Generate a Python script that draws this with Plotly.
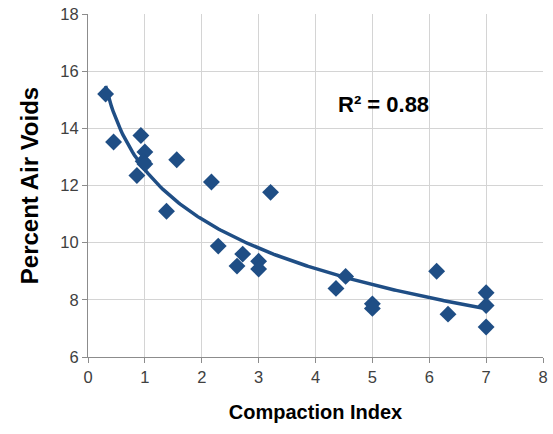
import numpy as np
import plotly.graph_objects as go

compaction_index = [0.31, 0.45, 0.93, 1.0, 0.97, 1.0, 0.86, 1.56, 2.17, 3.21,
                    1.38, 2.29, 2.72, 2.62, 3.0, 3.0, 4.53, 4.36, 5.0, 5.0,
                    6.13, 6.33, 7.0, 7.0, 7.0]
air_voids = [15.2, 13.52, 13.75, 13.17, 12.85, 12.75, 12.35, 12.9, 12.12, 11.76,
             11.1, 9.88, 9.6, 9.18, 9.35, 9.08, 8.82, 8.4, 7.86, 7.7,
             9.0, 7.5, 8.25, 7.8, 7.05]
r2_label = "R² = 0.88"

color = "#1F4E85"

x = np.array(compaction_index)
y = np.array(air_voids)
a, b = np.polyfit(np.log(x), y, 1)
xt = np.linspace(x.min(), x.max(), 200)
yt = a * np.log(xt) + b

fig = go.Figure()
fig.add_trace(go.Scatter(x=xt, y=yt, mode="lines",
                         line=dict(color=color, width=3.5), hoverinfo="skip"))
fig.add_trace(go.Scatter(x=compaction_index, y=air_voids, mode="markers",
                         marker=dict(symbol="diamond", size=13, color=color)))

axis_common = dict(showgrid=True, gridcolor="#D4D4D4", gridwidth=1,
                   showline=True, linecolor="#8C8C8C", linewidth=1,
                   ticks="outside", ticklen=5, tickcolor="#8C8C8C",
                   zeroline=False, automargin=False,
                   tickfont=dict(family="Liberation Sans, Arial", size=16.5, color="#404040"))

fig.update_xaxes(range=[0, 8], dtick=1, **axis_common,
                 title=dict(text="<b>Compaction Index</b>", standoff=20,
                            font=dict(family="Liberation Sans, Arial", size=20, color="black")))
fig.update_yaxes(range=[6, 18], dtick=2, **axis_common,
                 title=dict(text="<b>Percent Air Voids</b>", standoff=14,
                            font=dict(family="Liberation Sans, Arial", size=24, color="black")))

fig.add_annotation(x=5.2, y=14.85, text="<b>" + r2_label + "</b>", showarrow=False,
                   font=dict(family="Liberation Sans, Arial", size=22, color="black"))

fig.update_layout(width=553, height=434, showlegend=False,
                  plot_bgcolor="white", paper_bgcolor="white",
                  margin=dict(l=88, r=10, t=14, b=77, autoexpand=False))

fig.write_html("out.html", config={"displayModeBar": False},
               post_script="document.body.style.margin='0';document.body.style.overflow='hidden';")
